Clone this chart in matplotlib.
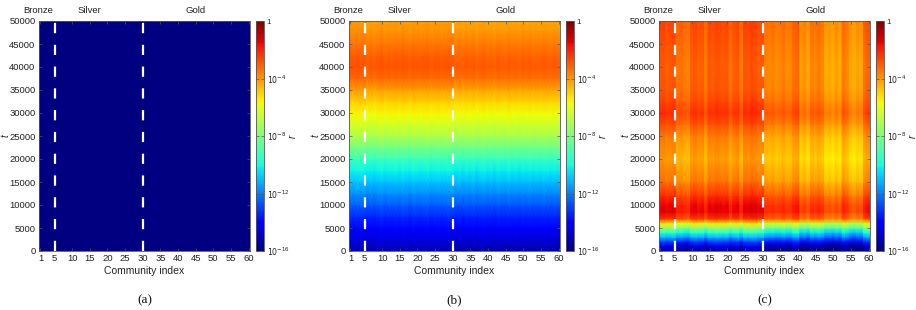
import numpy as np
import matplotlib
matplotlib.use("Agg")
import matplotlib.pyplot as plt
from matplotlib.colors import Normalize

plt.rcParams['font.family'] = ['Liberation Sans Narrow', 'Liberation Sans', 'DejaVu Sans']
plt.rcParams['mathtext.fontset'] = 'custom'
plt.rcParams['mathtext.rm'] = 'Liberation Sans Narrow'
plt.rcParams['mathtext.it'] = 'Liberation Sans Narrow:italic'

# ---------------- data ----------------
communities = np.arange(1, 61)
x_ticks = [1, 5, 10, 15, 20, 25, 30, 35, 40, 45, 50, 55, 60]
y_ticks = list(range(0, 50001, 5000))
cbar_ticks = [-16, -12, -8, -4, 0]
cbar_labels = [r'$10^{-16}$', r'$10^{-12}$', r'$10^{-8}$', r'$10^{-4}$', '1']
tier_names = ['Bronze', 'Silver', 'Gold']
tier_label_x = [0.5, 15, 45]
tier_bounds = [5, 30]
panel_tags = ['(a)', '(b)', '(c)']

# panel (a): log10 value vs t (flat at the floor)
t_a = [0, 50000]
log_a = [-16.0, -16.0]
offs_a = [0.0] * 60

# panel (b): log10 value vs t
t_b = [0, 2500, 5000, 7500, 10000, 12500, 15000, 17500, 20000, 22500, 25000,
       28000, 30000, 32500, 35000, 37500, 40000, 42500, 45000, 47500, 50000]
log_b = [-15.3, -14.7, -14.0, -13.4, -12.6, -11.8, -11.0, -10.2, -9.3, -8.2, -7.1,
         -6.2, -5.7, -5.0, -4.2, -3.3, -2.9, -3.1, -3.5, -3.9, -4.2]
offs_b = [0.10, 0.05, 0.12, 0.08, 0.10, -0.05, 0.00, -0.08, 0.05, 0.10,
          -0.03, 0.06, 0.02, 0.08, 0.00, 0.10, 0.05, -0.04, 0.08, 0.03,
          0.00, 0.06, 0.10, -0.05, 0.04, 0.08, 0.02, 0.05, 0.10, 0.06,
          -0.10, -0.05, -0.12, -0.02, -0.08, 0.00, -0.15, -0.05, 0.02, -0.10,
          -0.04, -0.12, 0.00, -0.06, -0.10, 0.02, -0.08, -0.04, -0.12, -0.02,
          -0.06, 0.00, -0.10, -0.04, -0.08, 0.00, -0.05, -0.10, -0.02, -0.06]

# panel (c): log10 value vs t
t_c = [0, 1000, 2000, 3000, 4000, 5000, 6000, 7000, 8500, 10000, 12000, 15000,
       20000, 25000, 27500, 30000, 32500, 35000, 40000, 45000, 50000]
log_c = [-15.8, -15.0, -13.5, -11.5, -10.0, -8.0, -5.8, -2.8, -1.8, -1.9, -2.6, -3.7,
         -4.5, -3.9, -3.2, -2.6, -3.0, -3.3, -3.4, -3.2, -3.0]
offs_c = [0.4, 0.5, 0.3, 0.4, 0.5, -0.1, 0.0, -0.2, -0.3, 0.3,
          0.4, 0.2, 0.3, -0.2, 0.4, 0.3, 0.5, 0.4, 0.3, 0.4,
          -0.1, 0.3, 0.4, -0.2, 0.5, 0.4, 0.6, 0.5, 0.3, 0.4,
          -0.3, -0.4, -0.3, -0.5, -0.4, -0.2, -0.5, -0.4, 0.0, 0.1,
          -0.8, -0.6, -0.9, -0.3, -0.4, -0.2, -0.4, -1.0, -0.9, -1.1,
          -0.8, -1.0, -0.2, -0.4, -0.9, -1.1, -0.8, -1.0, 0.0, 0.2]

panels = [(t_a, log_a, offs_a), (t_b, log_b, offs_b), (t_c, log_c, offs_c)]

# ---------------- layout ----------------
W, H = 916, 310
fig = plt.figure(figsize=(W / 100, H / 100), dpi=100)

ax_left_px = [39, 349, 659]
ax_w_px = 211
ax_top_px = 21
ax_bot_px = 251
cb_gap_px = 217
cb_w_px = 8

norm = Normalize(vmin=-16, vmax=0)
spine_col = '#555555'
tick_fs = 6.8

for i, (tt, prof, offs) in enumerate(panels):
    L = ax_left_px[i]
    ax = fig.add_axes([L / W, (H - ax_bot_px) / H, ax_w_px / W, (ax_bot_px - ax_top_px) / H])
    grid = np.clip(np.array(prof)[:, None] + np.array(offs)[None, :], -16, 0)
    xe = np.repeat(communities, 2) + np.tile([-0.5, 0.5], len(communities))
    Z = np.repeat(grid, 2, axis=1)
    X, Y = np.meshgrid(xe, np.array(tt, dtype=float))
    m = ax.pcolormesh(X, Y, Z, shading='gouraud', cmap='jet', norm=norm, rasterized=True)
    ax.set_xlim(0.6, 60.4)
    ax.set_ylim(0, 50000)
    for b in tier_bounds:
        ax.plot([b, b], [0, 50000], color='white', lw=1.6, linestyle=(0, (4.6, 5.2)))
    ax.set_xticks(x_ticks)
    ax.set_yticks(y_ticks)
    ax.tick_params(direction='in', length=2.5, width=0.5, top=True, right=True,
                   labelsize=tick_fs, colors=spine_col, labelcolor='#222222', pad=2.5)
    for s in ax.spines.values():
        s.set_color(spine_col)
        s.set_linewidth(0.6)
    ax.set_xlabel('Community index', fontsize=7.5, labelpad=1.5, color='#222222')
    ax.set_ylabel('t', fontsize=7, color='#222222', rotation=90, style='italic')
    ax.yaxis.set_label_coords(-0.133, 0.5)
    for name, xp in zip(tier_names, tier_label_x):
        ax.text(xp, 51400, name, ha='center', va='bottom', fontsize=6.8, color='#222222')
    fig.text((L + ax_w_px / 2) / W, 1 - 300 / H, panel_tags[i], ha='center', va='center',
             fontsize=9.5, family='Liberation Serif', color='#111111')

    cax = fig.add_axes([(L + cb_gap_px) / W, (H - ax_bot_px) / H, cb_w_px / W,
                        (ax_bot_px - ax_top_px) / H])
    cb = fig.colorbar(m, cax=cax, ticks=cbar_ticks)
    cb.ax.set_yticklabels(cbar_labels)
    cb.ax.tick_params(direction='in', length=2, width=0.5, labelsize=5.6,
                      colors=spine_col, labelcolor='#222222', pad=2, left=True, right=True)
    cb.outline.set_edgecolor(spine_col)
    cb.outline.set_linewidth(0.6)
    cb.set_label('r', fontsize=7, rotation=90, color='#222222', style='italic')
    cb.ax.yaxis.set_label_coords(3.95, 0.5)

fig.savefig('out.png', dpi=100)
